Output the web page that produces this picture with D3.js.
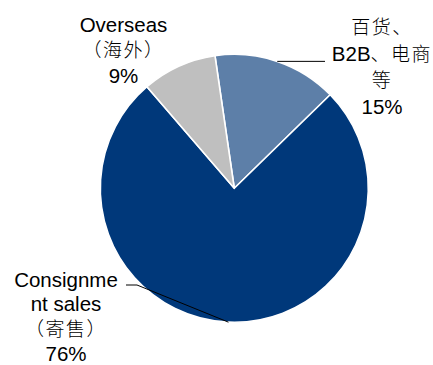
<!DOCTYPE html>
<html>
<head>
<meta charset="utf-8">
<script src="https://cdn.jsdelivr.net/npm/d3@7"></script>
<style>
  html, body { margin: 0; padding: 0; background: #fff; }
  svg { display: block; }
</style>
</head>
<body>
<svg id="chart" width="433" height="365"></svg>
<script>
// Sales channel mix
const categories = ["百货、B2B、电商等", "Consignment sales（寄售）", "Overseas（海外）"];
const shares = [15, 76, 9];
const labelLines = [
  ["百货、", "B2B、电商", "等"],
  ["Consignme", "nt sales", "（寄售）"],
  ["Overseas", "（海外）"]
];
const colors = ["#5d7fa8", "#00387a", "#bfbfbf"];

const W = 433, H = 365;
const cx = 234.3, cy = 188.3, R = 134;
const startDeg = -8.3;

const svg = d3.select("#chart");
const g = svg.append("g").attr("transform", `translate(${cx},${cy})`);

const pie = d3.pie()
  .sort(null)
  .value(d => d.value)
  .startAngle(startDeg * Math.PI / 180)
  .endAngle(startDeg * Math.PI / 180 + 2 * Math.PI);

const data = categories.map((c, i) => ({ name: c, value: shares[i], lines: labelLines[i], color: colors[i] }));
const arcs = pie(data);
const arc = d3.arc().innerRadius(0).outerRadius(R);

g.selectAll("path.slice")
  .data(arcs)
  .join("path")
  .attr("class", "slice")
  .attr("d", arc)
  .attr("fill", d => d.data.color)
  .attr("stroke", "#fff")
  .attr("stroke-width", 1.6)
  .attr("stroke-linejoin", "round");

// point on the outer edge at the middle of a slice
function edgePoint(d) {
  const a = (d.startAngle + d.endAngle) / 2;
  return [cx + R * Math.sin(a), cy - R * Math.cos(a)];
}

// label blocks: anchor centre x, first baseline, line step
const labelLayout = [
  { x: 382, y: 34, step: 26.5, leader: p => [p, [325, p[1]]] },
  { x: 66, y: 286.5, step: 24.8, leader: p => [p, [137, 285], [126, 285]] },
  { x: 123.5, y: 31.5, step: 25.6, leader: null }
];

const isCJK = ch => /[\u3000-\u303f\u4e00-\u9fff\uff00-\uffef]/.test(ch);
function runs(str) {
  const out = [];
  for (const ch of str) {
    const c = isCJK(ch);
    if (out.length && out[out.length - 1].cjk === c) out[out.length - 1].t += ch;
    else out.push({ t: ch, cjk: c });
  }
  return out;
}

const lineGen = d3.line();

arcs.forEach((d, i) => {
  const L = labelLayout[i];
  const lines = d.data.lines.concat([d3.format("d")(d.data.value) + "%"]);
  lines.forEach((ln, k) => {
    const t = svg.append("text")
      .attr("x", L.x)
      .attr("y", L.y + k * L.step)
      .attr("text-anchor", "middle")
      .attr("fill", "#000");
    runs(ln).forEach(r => {
      t.append("tspan")
        .attr("font-family", r.cjk ? "'Noto Sans CJK SC', sans-serif" : "'Liberation Sans', Arial, sans-serif")
        .attr("font-size", r.cjk ? 19 : 20.5)
        .attr("font-weight", r.cjk ? 300 : 400)
        .attr("letter-spacing", r.cjk ? 1.5 : 0)
        .text(r.t);
    });
  });
  if (L.leader) {
    svg.append("path")
      .attr("d", lineGen(L.leader(edgePoint(d))))
      .attr("fill", "none")
      .attr("stroke", "#000")
      .attr("stroke-width", 1);
  }
});
</script>
</body>
</html>
